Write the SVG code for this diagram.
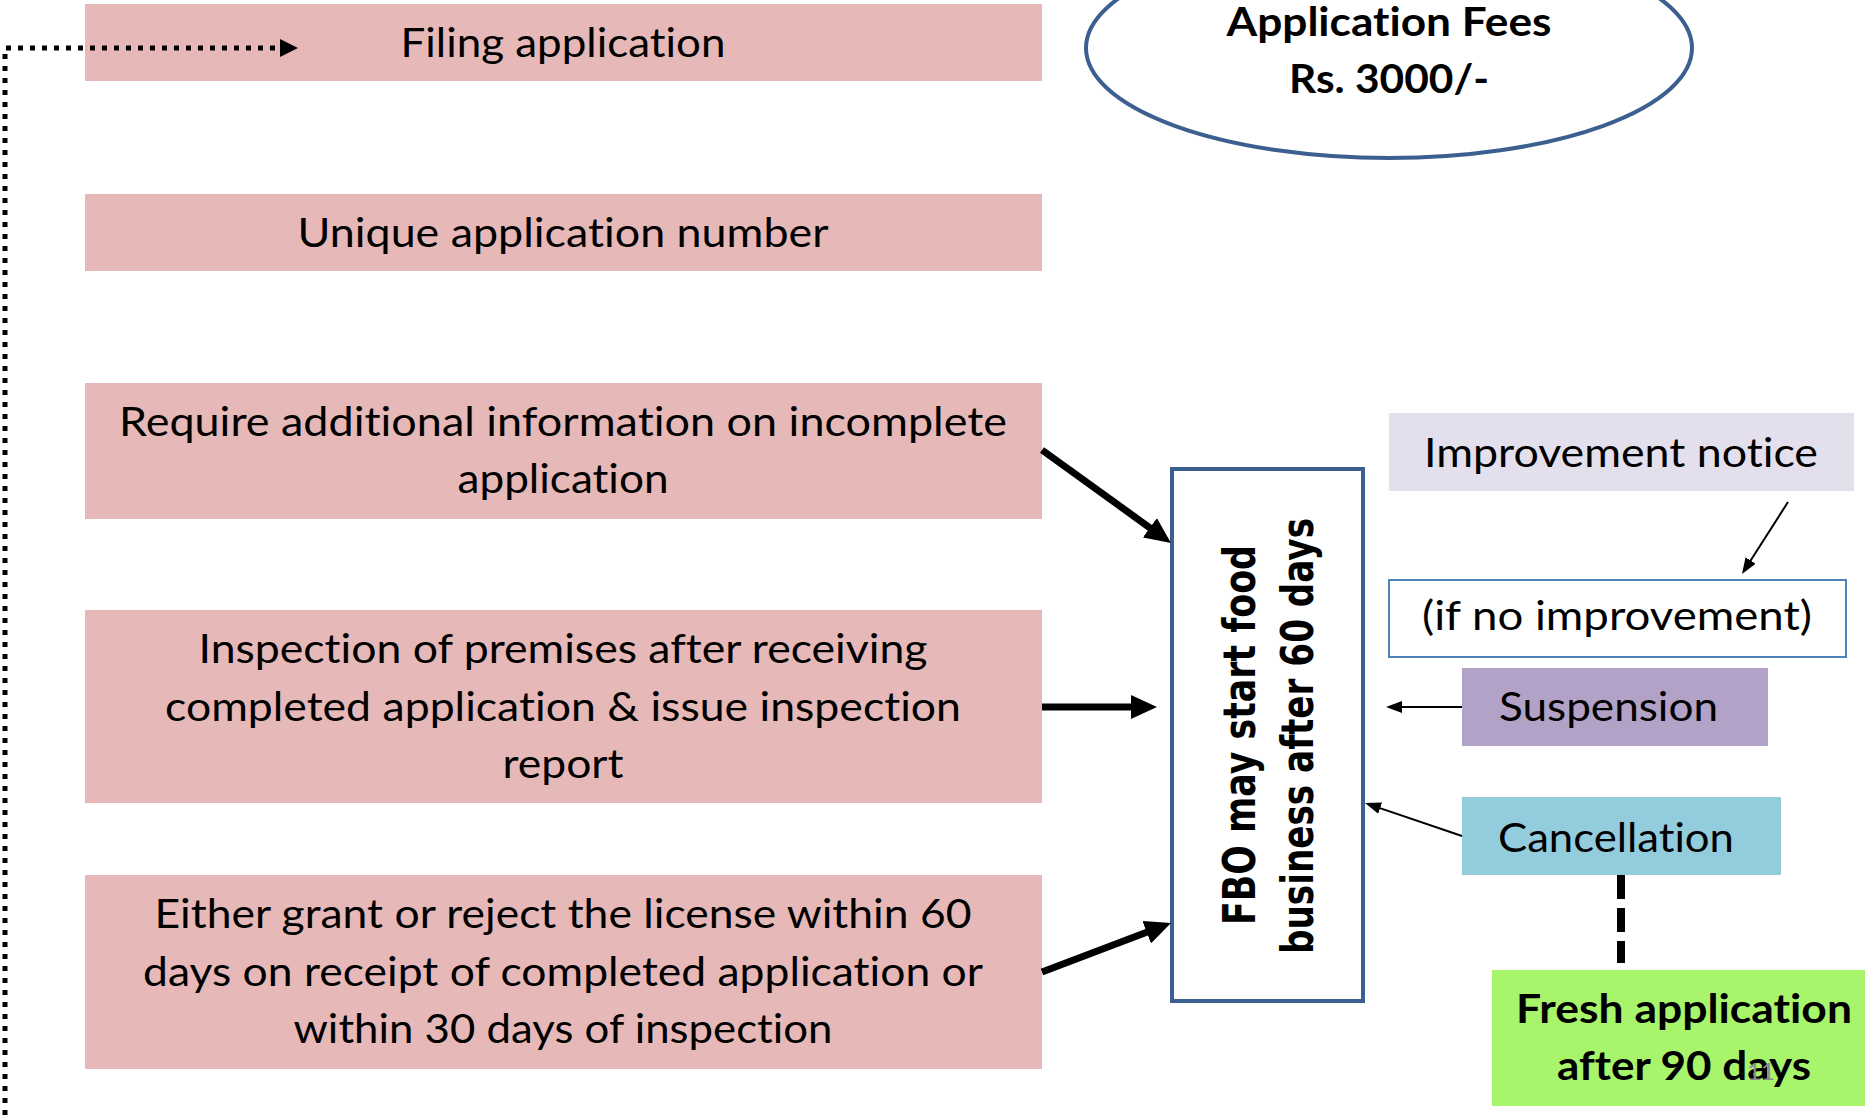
<svg xmlns="http://www.w3.org/2000/svg" width="1865" height="1115" viewBox="0 0 1865 1115">
<style>
.t{font-family:Lato,"Open Sans","Liberation Sans",sans-serif;font-size:40px;fill:#000;text-anchor:middle;font-variant-ligatures:none}
.b{font-weight:bold}
.fbo{font-family:"DejaVu Sans",Verdana,sans-serif;font-weight:bold;font-size:44px;fill:#000;text-anchor:middle}
.pink{fill:#e6b8b7}
.thick{stroke:#000;stroke-width:7;fill:none}
.thin{stroke:#000;stroke-width:2;fill:none}
</style>
<defs>
<marker id="big" markerUnits="userSpaceOnUse" viewBox="0 0 26 24" markerWidth="26" markerHeight="24" refX="12" refY="12" orient="auto"><path d="M0,0 L26,12 L0,24 z" fill="#000"/></marker>
<marker id="small" markerUnits="userSpaceOnUse" viewBox="0 0 16 12" markerWidth="16" markerHeight="12" refX="8" refY="6" orient="auto"><path d="M0,0 L16,6 L0,12 z" fill="#000"/></marker>
<marker id="dot" markerUnits="userSpaceOnUse" viewBox="0 0 18 18" markerWidth="18" markerHeight="18" refX="0" refY="9" orient="auto"><path d="M0,0 L18,9 L0,18 z" fill="#000"/></marker>
</defs>
<rect width="1865" height="1115" fill="#fff"/>

<g id="filing"><rect class="pink" x="85" y="4" width="957" height="77"/><text class="t" x="563" y="57" textLength="325" lengthAdjust="spacingAndGlyphs">Filing application</text></g>
<g id="unique"><rect class="pink" x="85" y="194" width="957" height="77"/><text class="t" x="563" y="247" textLength="531" lengthAdjust="spacingAndGlyphs">Unique application number</text></g>
<g id="require"><rect class="pink" x="85" y="383" width="957" height="136"/><text class="t" x="563" y="436" textLength="888" lengthAdjust="spacingAndGlyphs">Require additional information on incomplete</text><text class="t" x="563" y="493" textLength="211" lengthAdjust="spacingAndGlyphs">application</text></g>
<g id="inspection"><rect class="pink" x="85" y="610" width="957" height="193"/><text class="t" x="563" y="663" textLength="729" lengthAdjust="spacingAndGlyphs">Inspection of premises after receiving</text><text class="t" x="563" y="721" textLength="796" lengthAdjust="spacingAndGlyphs">completed application &amp; issue inspection</text><text class="t" x="563" y="778" textLength="121" lengthAdjust="spacingAndGlyphs">report</text></g>
<g id="either"><rect class="pink" x="85" y="875" width="957" height="194"/><text class="t" x="563" y="928" textLength="817" lengthAdjust="spacingAndGlyphs">Either grant or reject the license within 60</text><text class="t" x="563" y="986" textLength="840" lengthAdjust="spacingAndGlyphs">days on receipt of completed application or</text><text class="t" x="563" y="1043" textLength="539" lengthAdjust="spacingAndGlyphs">within 30 days of inspection</text></g>

<g id="fees"><ellipse cx="1389" cy="48" rx="303" ry="110" fill="#fff" stroke="#3b5f8f" stroke-width="4"/><text class="t b" x="1389" y="36" textLength="325" lengthAdjust="spacingAndGlyphs">Application Fees</text><text class="t b" x="1389" y="93" textLength="200" lengthAdjust="spacingAndGlyphs">Rs. 3000/-</text></g>

<g id="fbo"><rect x="1172" y="469" width="191" height="532" fill="#fff" stroke="#3b5f8f" stroke-width="4"/><text class="fbo" transform="translate(1255,735) rotate(-90)" textLength="380" lengthAdjust="spacingAndGlyphs">FBO may start food</text><text class="fbo" transform="translate(1313,736) rotate(-90)" textLength="436" lengthAdjust="spacingAndGlyphs">business after 60 days</text></g>

<g id="improvement"><rect x="1389" y="413" width="465" height="78" fill="#e4dfec"/><text class="t" x="1621" y="467" textLength="394" lengthAdjust="spacingAndGlyphs">Improvement notice</text></g>
<g id="noimprovement"><rect x="1389" y="580" width="457" height="77" fill="#fff" stroke="#4f81bd" stroke-width="2"/><text class="t" x="1617" y="630" textLength="390" lengthAdjust="spacingAndGlyphs">(if no improvement)</text></g>
<g id="suspension"><rect x="1462" y="668" width="306" height="78" fill="#b3a2c7"/><text class="t" x="1608.5" y="721" textLength="219" lengthAdjust="spacingAndGlyphs">Suspension</text></g>
<g id="cancellation"><rect x="1462" y="797" width="319" height="78" fill="#93cddd"/><text class="t" x="1616" y="852" textLength="236" lengthAdjust="spacingAndGlyphs">Cancellation</text></g>
<g id="fresh"><rect x="1492" y="970" width="373" height="136" fill="#a8f56c"/><text class="t b" x="1684" y="1023" textLength="336" lengthAdjust="spacingAndGlyphs">Fresh application</text><text class="t b" x="1684" y="1080" textLength="254" lengthAdjust="spacingAndGlyphs">after 90 days</text></g>
<g id="slidenum"><text x="1761" y="1080" font-family="Lato,'Liberation Sans',sans-serif" font-size="24" fill="#8c8c8c" text-anchor="middle">11</text></g>

<g id="connectors">
<path d="M5,1115 L5,48 L280,48" fill="none" stroke="#000" stroke-width="5" stroke-dasharray="5 7" marker-end="url(#dot)"/>
<line class="thick" x1="1042" y1="450" x2="1159.6" y2="534.8" marker-end="url(#big)"/>
<line class="thick" x1="1042" y1="707" x2="1143" y2="707" marker-end="url(#big)"/>
<line class="thick" x1="1042" y1="972" x2="1157.9" y2="928" marker-end="url(#big)"/>
<line class="thin" x1="1788" y1="502" x2="1746.3" y2="567.3" marker-end="url(#small)"/>
<line class="thin" x1="1462" y1="707" x2="1394" y2="707" marker-end="url(#small)"/>
<line class="thin" x1="1462" y1="836" x2="1372.6" y2="805.6" marker-end="url(#small)"/>
<line x1="1621" y1="875" x2="1621" y2="963" stroke="#000" stroke-width="8" stroke-dasharray="24 9"/>
</g>
</svg>
